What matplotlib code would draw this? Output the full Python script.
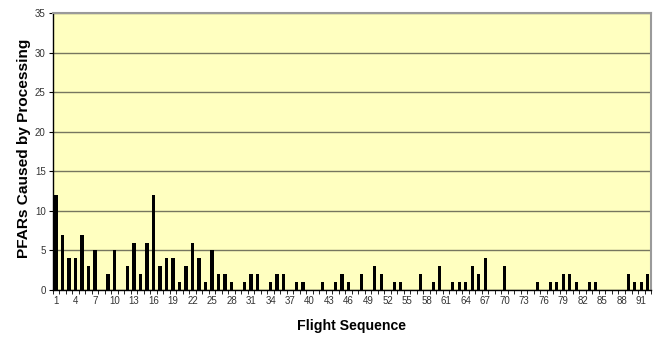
import matplotlib
matplotlib.use("Agg")
import matplotlib.pyplot as plt
import numpy as np

flights = list(range(1, 93))
pfars = [12, 7, 4, 4, 7, 3, 5, 0, 2, 5,
         0, 3, 6, 2, 6, 12, 3, 4, 4, 1,
         3, 6, 4, 1, 5, 2, 2, 1, 0, 1,
         2, 2, 0, 1, 2, 2, 0, 1, 1, 0,
         0, 1, 0, 1, 2, 1, 0, 2, 0, 3,
         2, 0, 1, 1, 0, 0, 2, 0, 1, 3,
         0, 1, 1, 1, 3, 2, 4, 0, 0, 3,
         0, 0, 0, 0, 1, 0, 1, 1, 2, 2,
         1, 0, 1, 1, 0, 0, 0, 0, 2, 1,
         1, 2]
tick_labels = [str(v) for v in range(1, 93, 3)]
y_ticks = [0, 5, 10, 15, 20, 25, 30, 35]

plt.rcParams['font.family'] = ['Liberation Sans', 'DejaVu Sans']

fig = plt.figure(figsize=(6.56, 3.37), dpi=100)
ax = fig.add_axes([0.0804, 0.1395, 0.912, 0.822])
ax.set_facecolor('#FFFFC0')

ax.bar(flights, pfars, width=0.5, color='black', zorder=3)

ax.set_xlim(0.5, 92.5)
ax.set_ylim(0, 35)
ax.set_yticks(y_ticks)
ax.set_yticklabels([str(v) for v in y_ticks], fontsize=7, color='#333333')
ax.set_xticks(range(1, 93, 3))
ax.set_xticklabels(tick_labels, fontsize=7, color='#333333')
ax.tick_params(axis='x', length=0, pad=4)
ax.set_xticks(np.arange(0.5, 93, 1), minor=True)
ax.tick_params(axis='x', which='minor', length=3, direction='out', color='black')
ax.tick_params(axis='y', length=3, direction='out', color='black', pad=2)

ax.grid(axis='y', color='#76765f', linewidth=1.0, zorder=1)
for s in ['left', 'bottom']:
    ax.spines[s].set_color('black')
    ax.spines[s].set_linewidth(1.0)
for s in ['top', 'right']:
    ax.spines[s].set_color('#9a9a9a')
    ax.spines[s].set_linewidth(1.5)

ax.set_xlabel('Flight Sequence', fontsize=10.2, fontweight='bold', labelpad=10)
ax.set_ylabel('PFARs Caused by Processing', fontsize=11.1, fontweight='bold')
ax.yaxis.set_label_coords(-0.037, 0.511)

fig.savefig('out.png', dpi=100)
